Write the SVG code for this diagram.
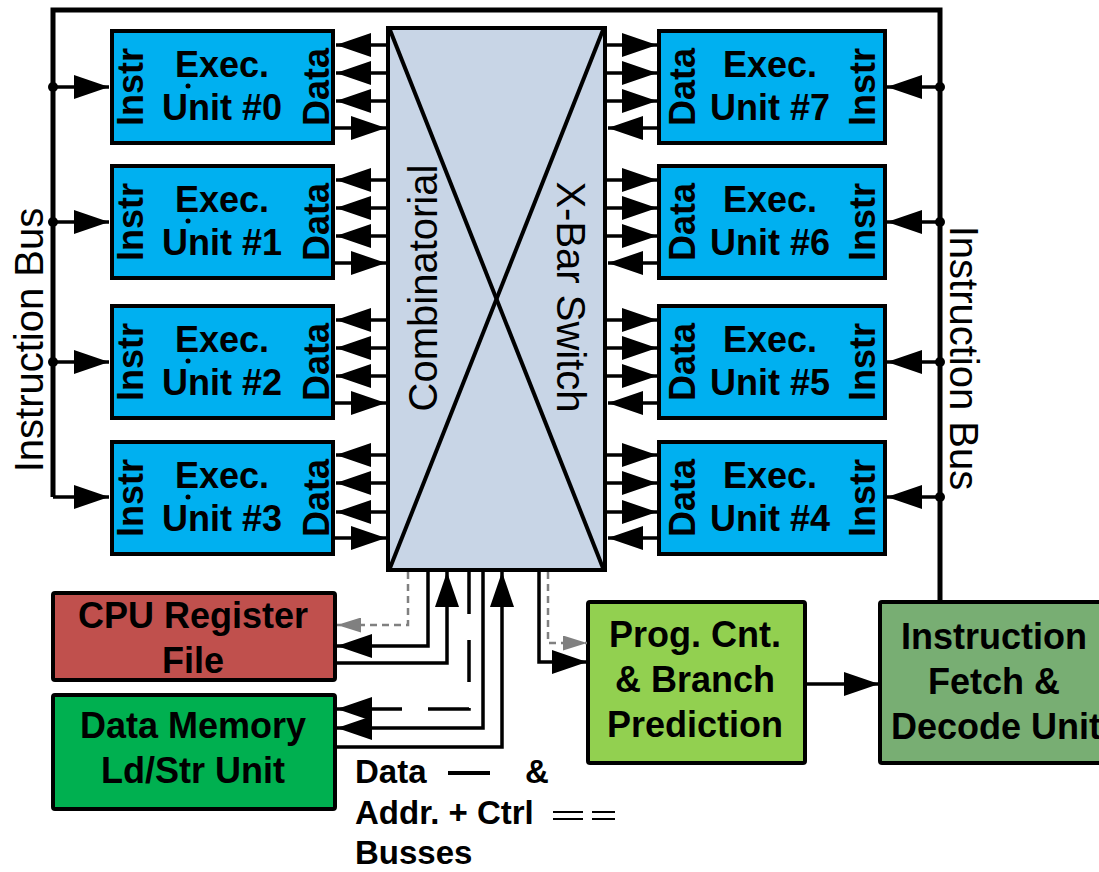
<svg xmlns="http://www.w3.org/2000/svg" width="1099" height="872" viewBox="0 0 1099 872">
<style>
text{font-family:"Liberation Sans",Arial,sans-serif;fill:#000}
.b{font-weight:bold;font-size:36px}
.r{font-size:40px}
.lg{font-weight:bold;font-size:33px}
.box{stroke:#000;stroke-width:4}
.eu{fill:#00B0F0;stroke:#000;stroke-width:4}
.ln{fill:none;stroke:#000;stroke-width:3.5}
.bus{fill:none;stroke:#000;stroke-width:5}
.gd{fill:none;stroke:#808080;stroke-width:2.5;stroke-dasharray:7 5}
.bd{fill:none;stroke:#000;stroke-width:3.5;stroke-dasharray:42 26}
.a{marker-end:url(#ah)}
.ga{marker-end:url(#gah)}
</style>
<defs>
<marker id="ah" markerWidth="35" markerHeight="24" refX="35" refY="12" orient="auto" markerUnits="userSpaceOnUse"><path d="M0,0 L35,12 L0,24 Z" fill="#000"/></marker>
<marker id="gah" markerWidth="24" markerHeight="15" refX="24" refY="7.5" orient="auto" markerUnits="userSpaceOnUse"><path d="M0,0 L24,7.5 L0,15 Z" fill="#808080"/></marker>
</defs>
<rect width="1099" height="872" fill="#fff"/>

<g id="switch">
<rect class="box" x="388" y="28" width="217" height="542" fill="#C8D5E6"/>
<line x1="390" y1="30" x2="603" y2="568" stroke="#000" stroke-width="4"/>
<line x1="603" y1="30" x2="390" y2="568" stroke="#000" stroke-width="4"/>
<text class="r" transform="translate(437,288) rotate(-90)" text-anchor="middle">Combinatorial</text>
<text class="r" transform="translate(557,297) rotate(90)" text-anchor="middle">X-Bar Switch</text>
</g>

<g id="eu0">
<rect class="eu" x="112" y="31" width="221" height="112"/>
<text class="b" x="222" y="77" text-anchor="middle">Exec.</text>
<text class="b" x="222" y="120" text-anchor="middle">Unit #0</text>
<text class="b" transform="translate(143,87) rotate(-90)" text-anchor="middle">Instr</text>
<text class="b" transform="translate(329,87) rotate(-90)" text-anchor="middle">Data</text>
<circle cx="188" cy="86" r="2.5"/>
</g>
<g id="eu1">
<rect class="eu" x="112" y="166" width="221" height="112"/>
<text class="b" x="222" y="212" text-anchor="middle">Exec.</text>
<text class="b" x="222" y="255" text-anchor="middle">Unit #1</text>
<text class="b" transform="translate(143,222) rotate(-90)" text-anchor="middle">Instr</text>
<text class="b" transform="translate(329,222) rotate(-90)" text-anchor="middle">Data</text>
<circle cx="188" cy="221" r="2.5"/>
</g>
<g id="eu2">
<rect class="eu" x="112" y="306" width="221" height="112"/>
<text class="b" x="222" y="352" text-anchor="middle">Exec.</text>
<text class="b" x="222" y="395" text-anchor="middle">Unit #2</text>
<text class="b" transform="translate(143,362) rotate(-90)" text-anchor="middle">Instr</text>
<text class="b" transform="translate(329,362) rotate(-90)" text-anchor="middle">Data</text>
<circle cx="188" cy="361" r="2.5"/>
</g>
<g id="eu3">
<rect class="eu" x="112" y="442" width="221" height="112"/>
<text class="b" x="222" y="488" text-anchor="middle">Exec.</text>
<text class="b" x="222" y="531" text-anchor="middle">Unit #3</text>
<text class="b" transform="translate(143,498) rotate(-90)" text-anchor="middle">Instr</text>
<text class="b" transform="translate(329,498) rotate(-90)" text-anchor="middle">Data</text>
<circle cx="188" cy="497" r="2.5"/>
</g>

<g id="eu7">
<rect class="eu" x="659" y="31" width="226" height="112"/>
<text class="b" x="770" y="77" text-anchor="middle">Exec.</text>
<text class="b" x="770" y="120" text-anchor="middle">Unit #7</text>
<text class="b" transform="translate(695,87) rotate(-90)" text-anchor="middle">Data</text>
<text class="b" transform="translate(875,87) rotate(-90)" text-anchor="middle">Instr</text>
</g>
<g id="eu6">
<rect class="eu" x="659" y="166" width="226" height="112"/>
<text class="b" x="770" y="212" text-anchor="middle">Exec.</text>
<text class="b" x="770" y="255" text-anchor="middle">Unit #6</text>
<text class="b" transform="translate(695,222) rotate(-90)" text-anchor="middle">Data</text>
<text class="b" transform="translate(875,222) rotate(-90)" text-anchor="middle">Instr</text>
</g>
<g id="eu5">
<rect class="eu" x="659" y="306" width="226" height="112"/>
<text class="b" x="770" y="352" text-anchor="middle">Exec.</text>
<text class="b" x="770" y="395" text-anchor="middle">Unit #5</text>
<text class="b" transform="translate(695,362) rotate(-90)" text-anchor="middle">Data</text>
<text class="b" transform="translate(875,362) rotate(-90)" text-anchor="middle">Instr</text>
</g>
<g id="eu4">
<rect class="eu" x="659" y="442" width="226" height="112"/>
<text class="b" x="770" y="488" text-anchor="middle">Exec.</text>
<text class="b" x="770" y="531" text-anchor="middle">Unit #4</text>
<text class="b" transform="translate(695,498) rotate(-90)" text-anchor="middle">Data</text>
<text class="b" transform="translate(875,498) rotate(-90)" text-anchor="middle">Instr</text>
</g>

<g id="cpureg">
<rect class="box" x="53" y="593" width="282" height="87" rx="2" fill="#C0504D"/>
<text class="b" x="193" y="628" text-anchor="middle">CPU Register</text>
<text class="b" x="193" y="673" text-anchor="middle">File</text>
</g>
<g id="datamem">
<rect class="box" x="53" y="695" width="282" height="114" rx="2" fill="#00B050"/>
<text class="b" x="193" y="738" text-anchor="middle">Data Memory</text>
<text class="b" x="193" y="783" text-anchor="middle">Ld/Str Unit</text>
</g>
<g id="progcnt">
<rect class="box" x="588" y="602" width="217" height="161" rx="2" fill="#92D050"/>
<text class="b" x="695" y="647" text-anchor="middle">Prog. Cnt.</text>
<text class="b" x="695" y="692" text-anchor="middle">&amp; Branch</text>
<text class="b" x="695" y="737" text-anchor="middle">Prediction</text>
</g>
<g id="fetch">
<rect class="box" x="880" y="602" width="240" height="161" rx="2" fill="#78AE73"/>
<text class="b" x="994" y="649" text-anchor="middle">Instruction</text>
<text class="b" x="994" y="694" text-anchor="middle">Fetch &amp;</text>
<text class="b" x="996" y="739" text-anchor="middle">Decode Unit</text>
</g>

<g id="labels">
<text class="r" transform="translate(43,340) rotate(-90)" text-anchor="middle">Instruction Bus</text>
<text class="r" transform="translate(950,358) rotate(90)" text-anchor="middle">Instruction Bus</text>
<text class="lg" x="355" y="783">Data</text>
<text class="lg" x="525" y="783">&amp;</text>
<text class="lg" x="355" y="824">Addr. + Ctrl</text>
<text class="lg" x="355" y="864">Busses</text>
<line x1="448" y1="773" x2="490" y2="773" stroke="#000" stroke-width="4"/>
<path d="M553,812 H583 M553,819 H583 M592,812 H615 M592,819 H615" stroke="#000" stroke-width="2" fill="none"/>
</g>

<g id="connectors">
<path class="bus" d="M53,497 V10 H940 V602"/>
<path class="ln a" d="M53,497 H109"/>
<path class="ln a" d="M53,87 H109"/>
<path class="ln a" d="M53,222 H109"/>
<path class="ln a" d="M53,362 H109"/>
<circle cx="53" cy="87" r="5"/>
<circle cx="53" cy="222" r="5"/>
<circle cx="53" cy="362" r="5"/>
<path class="ln a" d="M940,87 H887"/>
<path class="ln a" d="M940,222 H887"/>
<path class="ln a" d="M940,362 H887"/>
<path class="ln a" d="M940,497 H887"/>
<circle cx="940" cy="87" r="5"/>
<circle cx="940" cy="222" r="5"/>
<circle cx="940" cy="362" r="5"/>
<circle cx="940" cy="497" r="5"/>

<path class="ln a" d="M388,45 H336"/><path class="ln a" d="M388,73 H336"/><path class="ln a" d="M388,101 H336"/><path class="ln a" d="M333,128 H386"/>
<path class="ln a" d="M388,180 H336"/><path class="ln a" d="M388,208 H336"/><path class="ln a" d="M388,236 H336"/><path class="ln a" d="M333,263 H386"/>
<path class="ln a" d="M388,320 H336"/><path class="ln a" d="M388,348 H336"/><path class="ln a" d="M388,376 H336"/><path class="ln a" d="M333,403 H386"/>
<path class="ln a" d="M388,455 H336"/><path class="ln a" d="M388,483 H336"/><path class="ln a" d="M388,512 H336"/><path class="ln a" d="M333,538 H386"/>
<path class="ln a" d="M605,45 H657"/><path class="ln a" d="M605,73 H657"/><path class="ln a" d="M605,101 H657"/><path class="ln a" d="M659,128 H608"/>
<path class="ln a" d="M605,180 H657"/><path class="ln a" d="M605,208 H657"/><path class="ln a" d="M605,236 H657"/><path class="ln a" d="M659,263 H608"/>
<path class="ln a" d="M605,320 H657"/><path class="ln a" d="M605,348 H657"/><path class="ln a" d="M605,376 H657"/><path class="ln a" d="M659,403 H608"/>
<path class="ln a" d="M605,455 H657"/><path class="ln a" d="M605,483 H657"/><path class="ln a" d="M605,512 H657"/><path class="ln a" d="M659,538 H608"/>

<path class="gd ga" d="M408,572 V625 H337"/>
<path class="ln a" d="M428,572 V646 H337"/>
<path class="ln a" d="M335,663 H447 V572"/>
<path class="bd" d="M469,572 V709 H372"/>
<path class="ln a" d="M372,709 H337" stroke-width="0"/>
<path class="ln a" d="M483,572 V728 H337"/>
<path class="ln a" d="M335,747 H502 V572"/>
<path class="ln a" d="M539,572 V662 H587"/>
<path class="gd ga" d="M548,572 V643 H587"/>
<path class="ln a" d="M805,684 H879"/>
</g>
</svg>
